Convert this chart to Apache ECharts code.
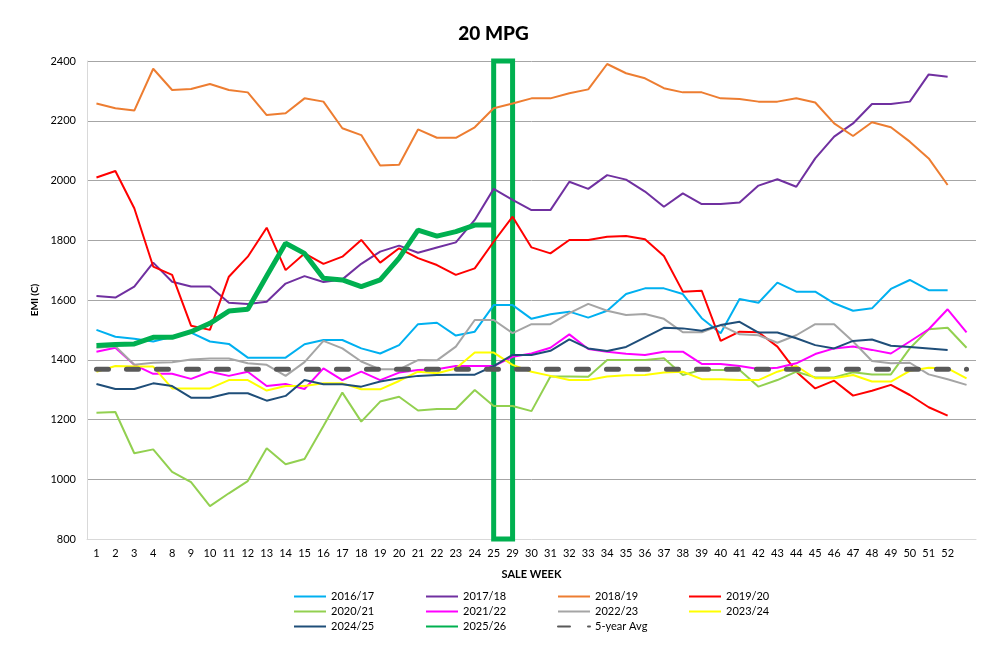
<!DOCTYPE html>
<html><head><meta charset="utf-8">
<script src="https://cdn.jsdelivr.net/npm/echarts@6/dist/echarts.min.js"></script>
<style>html,body{margin:0;padding:0;background:#fff}#c{width:987px;height:648px}</style>
</head><body><div id="c"></div>
<script>
const categories = ['1','2','3','4','8','9','10','11','12','13','14','15','16','17','18','19','20','21','22','23','24','25','29','30','31','32','33','34','35','36','37','38','39','40','41','42','43','44','45','46','47','48','49','50','51','52',''];
const yTicks = {min: 800, max: 2400, interval: 200};

const s1617 = [1500,1477,1470,1461,1477,1491,1461,1453,1407,1407, 1407,1452,1466,1466,1438,1421,1449,1519,1524,1481, 1494,1583,1583,1537,1552,1561,1541,1564,1620,1639, 1639,1620,1539,1489,1603,1591,1658,1628,1628,1589, 1564,1572,1637,1667,1633,1633,null];
const s1718 = [1613,1608,1645,1725,1661,1645,1645,1591,1587,1594, 1655,1680,1660,1669,1721,1762,1782,1758,1776,1793, 1868,1972,1935,1901,1901,1996,1972,2018,2003,1963, 1912,1957,1921,1921,1926,1983,2004,1979,2074,2147, 2191,2256,2256,2264,2355,2347,null];
const s1819 = [2258,2242,2234,2374,2303,2306,2323,2303,2295,2219, 2225,2275,2264,2175,2152,2050,2053,2171,2143,2143, 2178,2242,2258,2275,2275,2292,2305,2390,2359,2342, 2309,2295,2295,2275,2273,2264,2264,2275,2261,2191, 2149,2195,2178,2130,2074,1985,null];
const s1920 = [2010,2032,1907,1712,1684,1514,1500,1678,1745,1842, 1700,1756,1721,1745,1801,1725,1773,1740,1717,1684, 1706,1795,1879,1776,1756,1801,1801,1812,1814,1803, 1747,1628,1631,1463,1494,1492,1444,1360,1304,1330, 1280,1296,1316,1282,1241,1213,null];
const s2021 = [1223,1225,1087,1100,1025,990,910,953,994,1104, 1050,1068,1178,1290,1193,1260,1276,1230,1235,1235, 1299,1245,1245,1228,1344,1344,1343,1399,1399,1399, 1405,1349,1366,1366,1366,1310,1332,1360,1341,1341, 1358,1351,1351,1438,1502,1507,1440];
const s2122 = [1427,1440,1383,1353,1353,1336,1360,1346,1360,1312, 1319,1302,1371,1332,1360,1332,1357,1366,1368,1379, 1379,1379,1410,1421,1440,1485,1436,1427,1420,1416, 1427,1427,1386,1386,1379,1369,1373,1388,1419,1438, 1444,1433,1421,1461,1502,1569,1492];
const s2223 = [1440,1445,1383,1390,1392,1401,1404,1404,1388,1383, 1346,1392,1463,1438,1394,1368,1368,1399,1398,1444, 1533,1533,1489,1519,1519,1556,1587,1564,1550,1553, 1537,1492,1492,1516,1485,1482,1457,1482,1519,1519, 1461,1396,1388,1390,1351,1335,1316];
const s2324 = [1360,1379,1377,1377,1304,1304,1304,1332,1332,1297, 1312,1312,1321,1321,1301,1301,1329,1360,1355,1371, 1424,1424,1383,1360,1346,1332,1332,1344,1348,1349, 1357,1360,1335,1335,1332,1332,1360,1379,1338,1338, 1349,1327,1327,1363,1373,1371,1338];
const s2425 = [1319,1302,1302,1321,1312,1273,1273,1288,1288,1263, 1279,1332,1318,1318,1310,1327,1338,1346,1349,1350, 1350,1379,1416,1416,1430,1468,1438,1429,1443,1475, 1507,1505,1497,1516,1527,1491,1491,1472,1449,1438, 1463,1468,1447,1443,1438,1433,null];
const s2526 = [1448,1451,1453,1475,1475,1494,1522,1563,1569,1680, 1790,1756,1673,1667,1645,1667,1740,1834,1814,1829, 1851,1851,null,null,null,null,null,null,null,null, null,null,null,null,null,null,null,null,null,null, null,null,null,null,null,null,null];
const avg5 = [1368,1368,1368,1368,1368,1368,1368,1368,1368,1368, 1368,1368,1368,1368,1368,1368,1368,1368,1368,1368, 1368,1368,1368,1368,1368,1368,1368,1368,1368,1368, 1368,1368,1368,1368,1368,1368,1368,1368,1368,1368, 1368,1368,1368,1368,1368,1368,1368];
const highlight = {fromWeek: '25', toWeek: '29'};

const FONT = 'Lato';
function line(name, data, color, width, extra) {
  return Object.assign({
    name, type: 'line', data, symbol: 'none', showSymbol: false,
    lineStyle: {color, width}, itemStyle: {color}, connectNulls: false, z: 2, animation: false
  }, extra || {});
}
const series = [
  line('2016/17', s1617, '#00b0f0', 2),
  line('2017/18', s1718, '#7030a0', 2),
  line('2018/19', s1819, '#ed7d31', 2),
  line('2019/20', s1920, '#ff0000', 2),
  line('2020/21', s2021, '#92d050', 2),
  line('2021/22', s2122, '#ff00ff', 2),
  line('2022/23', s2223, '#a5a5a5', 2),
  line('2023/24', s2324, '#ffff00', 2),
  line('2024/25', s2425, '#1f4e79', 2),
  line('2025/26', s2526, '#00b050', 5, {
    markArea: {
      silent: true,
      itemStyle: {color: 'rgba(0,0,0,0)', borderColor: '#00b050', borderWidth: 5},
      data: [[{xAxis: highlight.fromWeek, yAxis: yTicks.max}, {xAxis: highlight.toWeek, yAxis: yTicks.min}]]
    }
  }),
  line('5-year Avg', avg5, '#595959', 5, {lineStyle: {color: '#595959', width: 5, type: [12, 18], cap: 'round'}})
];

function leg(names, left) {
  return {
    data: names, orient: 'vertical', left, top: 591, itemWidth: 32, itemHeight: 10, itemGap: 4,
    itemStyle: {opacity: 0},
    textStyle: {fontFamily: FONT, fontSize: 11, color: '#000'}, selectedMode: false, padding: 0
  };
}

const chart = echarts.init(document.getElementById('c'), null, {renderer: 'canvas'});
chart.setOption({
  backgroundColor: '#fff',
  animation: false,
  title: {text: '20 MPG', left: 'center', top: 19, textStyle: {fontFamily: FONT, fontSize: 19, fontWeight: 900, color: '#000'}},
  grid: {left: 87, right: 11, top: 61, bottom: 109, containLabel: false},
  legend: [
    leg(['2016/17','2020/21','2024/25'], 293),
    leg(['2017/18','2021/22','2025/26'], 425),
    leg(['2018/19','2022/23','5-year Avg'], 557),
    leg(['2019/20','2023/24'], 688)
  ],
  xAxis: {
    type: 'category', data: categories, boundaryGap: true,
    name: 'SALE WEEK', nameLocation: 'middle', nameGap: 30,
    nameTextStyle: {fontFamily: FONT, fontSize: 11, fontWeight: 'bold', color: '#000'},
    axisLine: {show: true, lineStyle: {color: '#d9d9d9', width: 1}},
    axisTick: {show: false},
    axisLabel: {interval: 0, margin: 9, fontFamily: FONT, fontSize: 11, color: '#000'},
    splitLine: {show: false}
  },
  yAxis: {
    type: 'value', min: yTicks.min, max: yTicks.max, interval: yTicks.interval,
    name: 'EMI (C)', nameLocation: 'middle', nameGap: 43, nameRotate: 90,
    nameTextStyle: {fontFamily: FONT, fontSize: 10, fontWeight: 'bold', color: '#000'},
    axisLine: {show: true, lineStyle: {color: '#d9d9d9', width: 1}},
    axisTick: {show: false},
    axisLabel: {margin: 11, fontFamily: FONT, fontSize: 11, color: '#000', formatter: v => String(v)},
    splitLine: {show: true, showMinLine: false, lineStyle: {color: '#a6a6a6', width: 1}}
  },
  series
});
</script></body></html>
